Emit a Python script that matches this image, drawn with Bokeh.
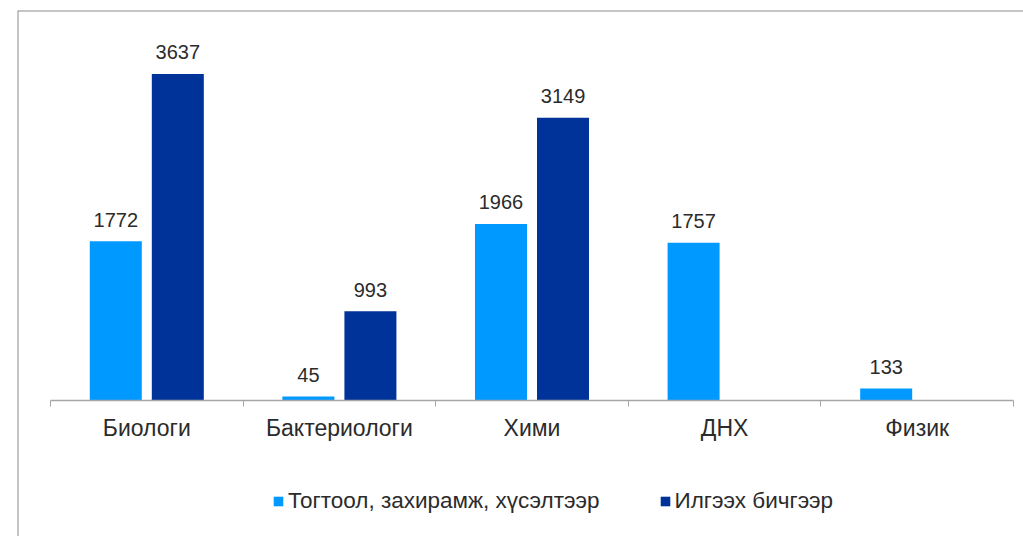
from bokeh.plotting import figure
from bokeh.models import Range1d, FixedTicker, Legend, LegendItem, ColumnDataSource, Span
from bokeh.core.properties import value
from bokeh.embed import file_html
from bokeh.resources import INLINE

categories = ["Биологи", "Бактериологи", "Хими", "ДНХ", "Физик"]
series_names = ["Тогтоол, захирамж, хүсэлтээр", "Илгээх бичгээр"]
decisions = [1772, 45, 1966, 1757, 133]
letters = [3637, 993, 3149, 0, 0]
colors = ["#0099ff", "#003399"]

FONT = "Liberation Sans"
TXT = "#2b2b2b"
GRAY = "#a6a6a6"

# page-pixel layout targets (canvas at page origin)
W, H = 1023, 536
frame_l, frame_t, frame_r, frame_b = 17, 10, W, H
axis_l, axis_r, axis_y = 50, 1013, 400
px_per_val = 0.0898
n = len(categories)
px_per_cat = (axis_r - axis_l) / n

x0 = -(axis_l - frame_l) / px_per_cat
x1 = n + (frame_r - axis_r) / px_per_cat
y1 = (axis_y - frame_t) / px_per_val
y0 = -(frame_b - axis_y) / px_per_val

p = figure(width=W, height=H, output_backend="svg", toolbar_location=None,
           x_range=Range1d(x0, x1), y_range=Range1d(y0, y1),
           y_axis_location=None, min_border_left=frame_l, min_border_right=0,
           min_border_top=frame_t, min_border_bottom=0)
p.outline_line_color = None
p.xgrid.visible = False
p.ygrid.visible = False
p.background_fill_color = "white"
p.border_fill_color = "white"

offset = 0.161
bw = 0.27
renderers = []
for k, vals in enumerate([decisions, letters]):
    sgn = -1 if k == 0 else 1
    xs = [i + 0.5 + sgn * offset for i, v in enumerate(vals) if v > 0]
    ys = [v for v in vals if v > 0]
    src = ColumnDataSource(dict(x=xs, top=ys, lab=[str(v) for v in ys]))
    r = p.vbar(x="x", top="top", bottom=0, width=bw, source=src,
               fill_color=colors[k], line_color=None)
    renderers.append(r)
    p.text(x="x", y="top", text="lab", source=src, text_align="center",
           text_baseline="alphabetic", y_offset=-21.5,
           text_font=value(FONT), text_font_size="20px", text_color=TXT)

ax = p.xaxis[0]
ax.fixed_location = 0
ax.bounds = (0, n)
ax.ticker = FixedTicker(ticks=[i + 0.5 for i in range(n)],
                        minor_ticks=list(range(n + 1)))
ax.major_label_overrides = {i + 0.5: c for i, c in enumerate(categories)}
ax.major_tick_line_color = None
ax.major_tick_out = 6
ax.minor_tick_line_color = GRAY
ax.minor_tick_out = 6
ax.minor_tick_in = 0
ax.axis_line_color = GRAY
ax.axis_line_width = 1.5
ax.major_label_text_font = FONT
ax.major_label_text_font_size = "23px"
ax.major_label_text_color = TXT
ax.major_label_standoff = 8

# chart-area frame (left and top edges)
p.add_layout(Span(location=x0, dimension="height", line_color="#8c8c8c", line_width=2))
p.add_layout(Span(location=y1, dimension="width", line_color="#8c8c8c", line_width=2))

legend = Legend(items=[LegendItem(label=series_names[k], renderers=[renderers[k]]) for k in range(2)],
                orientation="horizontal", location=(272 - frame_l, 22.5),
                glyph_width=12, glyph_height=12, label_height=12,
                label_standoff=4, spacing=59, padding=0, margin=0,
                border_line_color=None, background_fill_alpha=0,
                label_text_font=FONT, label_text_font_size="22.5px",
                label_text_color=TXT, label_text_baseline="middle")
p.add_layout(legend, "center")

open("out.html", "w").write(file_html(p, INLINE))
